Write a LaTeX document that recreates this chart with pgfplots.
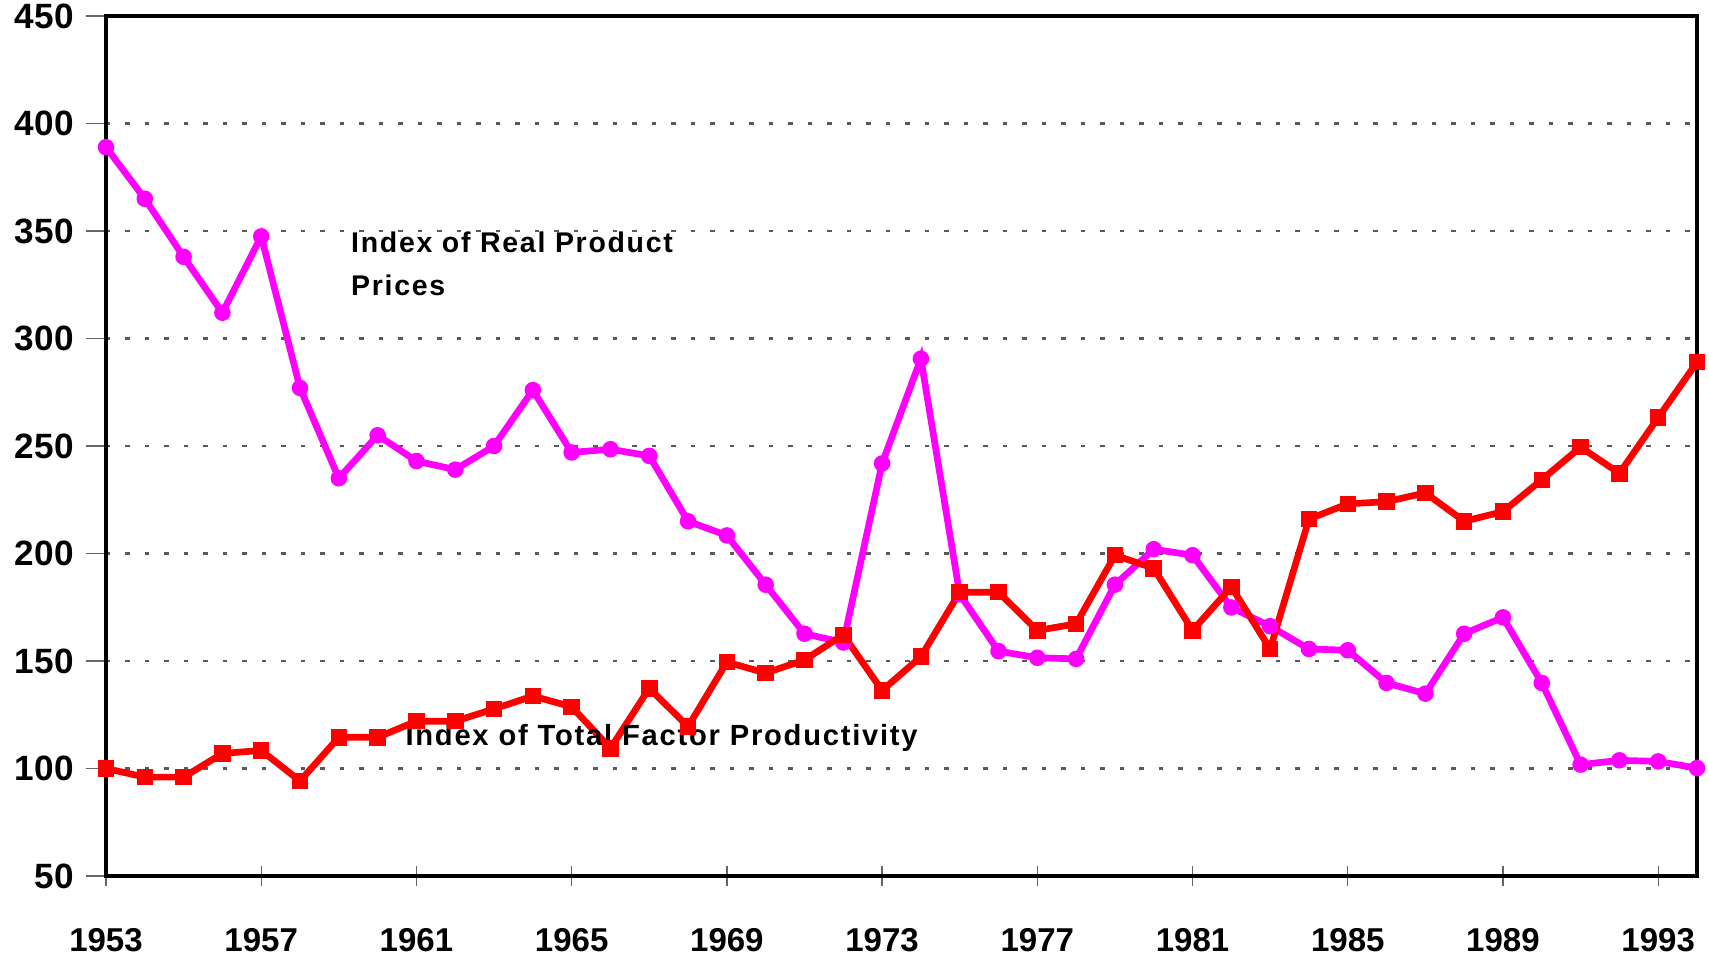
\documentclass[border=0pt]{standalone}
\usepackage{pgfplots}
\pgfplotsset{compat=1.18}
\usepackage{fontspec}
\setmainfont{Liberation Sans}
\definecolor{mag}{RGB}{255,0,255}
\definecolor{rd}{RGB}{255,0,0}
\begin{document}
\begin{tikzpicture}
\begin{axis}[
  scale only axis,
  width=15.91cm, height=8.6cm,
  xmin=1953, xmax=1994, ymin=50, ymax=450,
  xtick={1953,1957,...,1993},
  ytick={50,100,...,450},
  x tick label style={/pgf/number format/1000 sep={}},
  /pgf/number format/assume math mode=true,
  xticklabel style={font=\fontsize{9.4}{10}\selectfont\bfseries, yshift=-0.3cm},
  yticklabel style={font=\fontsize{10}{10}\selectfont\bfseries},
  axis line style={line width=0.9pt},
  ymajorgrids,
  major grid style={gray!70!black, line width=0.6pt, dash pattern=on 0.045cm off 0.15cm},
  xtick align=center,
  ytick align=outside,
  xtick pos=bottom, ytick pos=left,
  major tick length=0.2cm,
  tick style={gray!80!black, line width=0.4pt},
  clip=false,
]
\addplot[mag, line width=1.9pt, mark=*, mark size=2.1pt, mark options={solid, fill=mag, draw=mag, line width=0.5pt}] coordinates {
(1953,389) (1954,365) (1955,338) (1956,312) (1957,347.5) (1958,277) (1959,235) (1960,255)
(1961,243) (1962,239) (1963,250) (1964,276) (1965,247) (1966,248.5) (1967,245.4) (1968,215)
(1969,208.4) (1970,185.5) (1971,162.7) (1972,158.6) (1973,241.9) (1974,290.6) (1975,181)
(1976,154.6) (1977,151.5) (1978,151) (1979,185.5) (1980,202) (1981,199.2) (1982,174.9)
(1983,166.2) (1984,155.6) (1985,155) (1986,139.8) (1987,134.8) (1988,162.7) (1989,170.3)
(1990,139.8) (1991,101.8) (1992,103.8) (1993,103.3) (1994,100.2)
};
\addplot[rd, line width=1.9pt, mark=square*, mark size=2.15pt, mark options={solid, fill=rd, draw=rd, line width=0.4pt}] coordinates {
(1953,100) (1954,96) (1955,96) (1956,107) (1957,108.4) (1958,94.2) (1959,114.5) (1960,114.5)
(1961,122) (1962,122) (1963,127.7) (1964,133.7) (1965,128.7) (1966,109.4) (1967,137.3)
(1968,119.5) (1969,149.5) (1970,144.4) (1971,150.5) (1972,162.2) (1973,136.3) (1974,152)
(1975,182) (1976,182) (1977,164.2) (1978,167.3) (1979,199.2) (1980,193.1) (1981,164.2)
(1982,184.5) (1983,155.6) (1984,216) (1985,223.1) (1986,224.1) (1987,228.2) (1988,215)
(1989,219.5) (1990,234.3) (1991,249.5) (1992,237.3) (1993,263.2) (1994,289)
};
\node[anchor=base west, inner sep=0pt, font=\fontsize{8.1}{10}\selectfont\bfseries\addfontfeature{LetterSpace=6}] at (axis cs:1959.3,340.2) {Index of Real Product};
\node[anchor=base west, inner sep=0pt, font=\fontsize{8.1}{10}\selectfont\bfseries\addfontfeature{LetterSpace=6}] at (axis cs:1959.3,320.2) {Prices};
\node[anchor=base west, inner sep=0pt, font=\fontsize{8.3}{10}\selectfont\bfseries\addfontfeature{LetterSpace=6}] at (axis cs:1960.7,110.5) {Index of Total Factor Productivity};
\end{axis}
\pgfresetboundingbox
\path[use as bounding box] (current axis.south west) ++(-1.06cm,-0.79cm) rectangle ++(17.09cm,9.55cm);
\end{tikzpicture}
\end{document}
